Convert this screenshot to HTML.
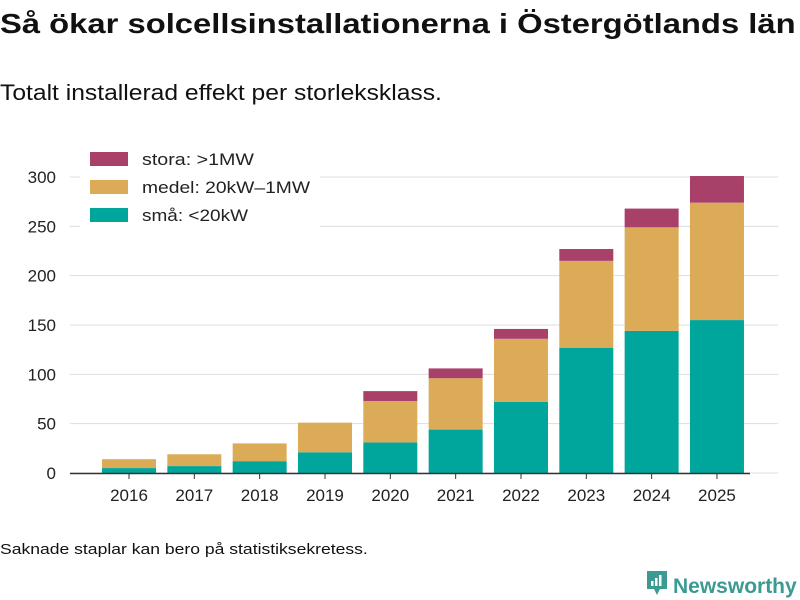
<!DOCTYPE html>
<html><head><meta charset="utf-8"><style>
body{margin:0;width:800px;height:600px;background:#fff;font-family:"Liberation Sans",sans-serif;position:relative;overflow:hidden;color:#111}
.t{position:absolute;white-space:nowrap;transform-origin:0 0}
</style></head><body>
<div class="t" style="left:0;top:8px;font-size:28px;font-weight:bold;transform:scaleX(1.17)">Så ökar solcellsinstallationerna i Östergötlands län</div>
<div class="t" style="left:0;top:80px;font-size:22px;transform:scaleX(1.12)">Totalt installerad effekt per storleksklass.</div>
<svg id="c" width="800" height="600" style="position:absolute;left:0;top:0"></svg>
<div class="t" style="left:0;top:541px;font-size:15px;transform:scaleX(1.17)">Saknade staplar kan bero på statistiksekretess.</div>
<div class="t" style="left:645px;top:569px;font-size:21px;font-weight:bold;color:#3b9a92">
<svg width="24" height="30" style="vertical-align:-6px;margin-right:4px"><path d="M2 2h20v18h-7l-3 6-3-6H2z" fill="#3b9a92"/><rect x="6" y="12" width="2.5" height="5" fill="#fff"/><rect x="10" y="9" width="2.5" height="8" fill="#fff"/><rect x="14" y="6" width="2.5" height="11" fill="#fff"/></svg>Newsworthy</div>
<script>
const years=["2016","2017","2018","2019","2020","2021","2022","2023","2024","2025"];
const sma=[5,7,12,21,31,44,72,127,144,155];
const medel=[9,12,18,30,42,52,64,88,105,119];
const stora=[0,0,0,0,10,10,10,12,19,27];
const yTicks=[0,50,100,150,200,250,300];
const svg=document.getElementById('c');const NS="http://www.w3.org/2000/svg";
function el(t,a){const e=document.createElementNS(NS,t);for(const k in a)e.setAttribute(k,a[k]);svg.appendChild(e);return e;}
const y=v=>473-v*296/300;
const x=i=>129+i*65.33;
yTicks.forEach(v=>{
 const g=el('line',{x1:70,x2:778,y1:y(v),y2:y(v),stroke:'#ddd','stroke-width':1});
 
 
 const t=el('text',{x:56,y:y(v)+6,'text-anchor':'end','font-size':17,fill:'#222','font-family':'Liberation Sans, sans-serif'});
 t.textContent=v;
 
 
});
const series=[[sma,'#00a59b','sma'],[medel,'#dbab58','medel'],[stora,'#a8406a','stora']];
years.forEach((yr,i)=>{
 let base=0;
 series.forEach(([d,c,n])=>{
  const v=d[i];if(v>0){
   const r=el('rect',{x:x(i)-27,width:54,y:y(base+v),height:y(base)-y(base+v),fill:c});
   
   
  }
  base+=v;
 });
 const t=el('text',{x:x(i),y:501,'text-anchor':'middle','font-size':17,fill:'#222','font-family':'Liberation Sans, sans-serif'});
 t.textContent=yr;
 
 
 const tk=el('line',{x1:x(i),x2:x(i),y1:473,y2:479,stroke:'#333'});
 
 
});
const ax=el('line',{x1:70,x2:750,y1:473.5,y2:473.5,stroke:'#333','stroke-width':1.5});


const lbg=el('rect',{x:80,y:143,width:240,height:85,fill:'#fff'});


[['stora: >1MW','#a8406a',159,112],['medel: 20kW–1MW','#dbab58',187,168],['små: <20kW','#00a59b',215,106]].forEach(([l,c,yy,w])=>{
 const r=el('rect',{x:90,y:yy-7,width:38,height:14,fill:c});
 
 
 const t=el('text',{x:142,y:yy+6,'font-size':17,fill:'#222','font-family':'Liberation Sans, sans-serif',textLength:w,lengthAdjust:'spacingAndGlyphs'});
 t.textContent=l;
 
 
});
</script>
</body></html>
